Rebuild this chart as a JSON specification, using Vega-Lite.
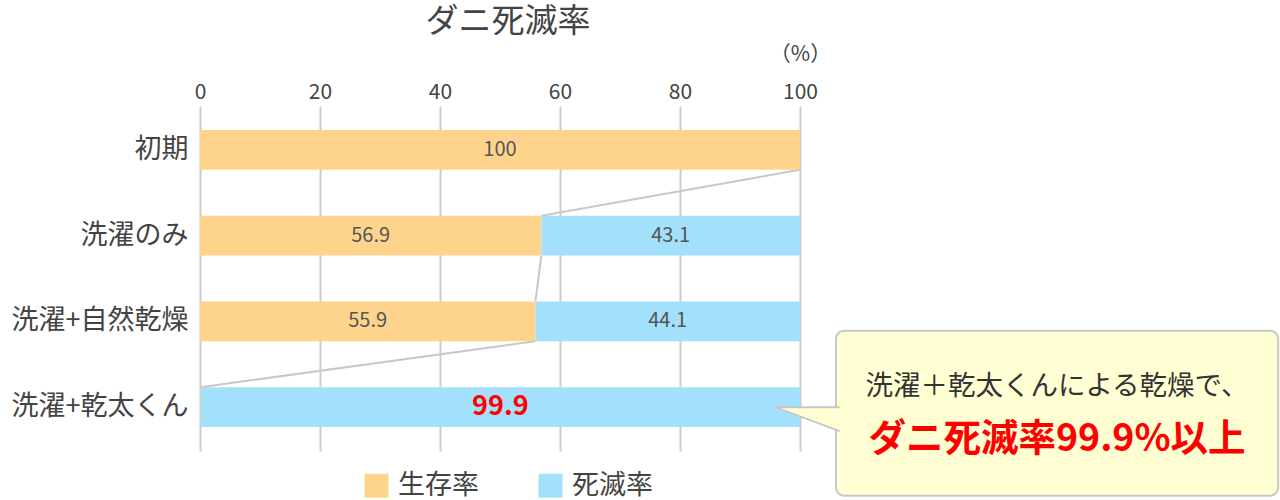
{
  "$schema": "https://vega.github.io/schema/vega-lite/v6.json",
  "width": 600,
  "height": 345,
  "autosize": {"type": "none"},
  "padding": {"left": 200, "top": 106, "right": 480, "bottom": 49},
  "background": "white",
  "config": {"font": "Noto Sans CJK JP", "view": {"stroke": null}},
  "title": {"text": "ダニ死滅率", "fontSize": 33, "fontWeight": "normal", "color": "#444", "anchor": "middle", "dx": 8, "offset": 4},
  "data": {"values": [
    {"label": "初期", "type": "生存率", "value": 100},
    {"label": "洗濯のみ", "type": "生存率", "value": 56.9},
    {"label": "洗濯のみ", "type": "死滅率", "value": 43.1},
    {"label": "洗濯+自然乾燥", "type": "生存率", "value": 55.9},
    {"label": "洗濯+自然乾燥", "type": "死滅率", "value": 44.1},
    {"label": "洗濯+乾太くん", "type": "生存率", "value": 0.1},
    {"label": "洗濯+乾太くん", "type": "死滅率", "value": 99.9}
  ]},
  "layer": [
    {
      "mark": {"type": "bar"},
      "encoding": {
        "x": {"field": "value", "type": "quantitative", "stack": "zero",
          "scale": {"domain": [0, 100], "nice": false},
          "axis": {"orient": "top", "values": [0, 20, 40, 60, 80, 100], "ticks": false, "domain": false,
            "grid": true, "gridColor": "#cccccc", "gridWidth": 2, "labelFontSize": 21, "labelColor": "#444",
            "labelPadding": 4, "labelFlush": false, "title": "（%）", "titleAngle": 0, "titleX": 600, "titleY": -52,
            "titleAlign": "center", "titleBaseline": "middle", "titleFontSize": 21, "titleFontWeight": "normal", "titleColor": "#444"}},
        "y": {"field": "label", "type": "nominal",
          "scale": {"domain": ["初期", "洗濯のみ", "洗濯+自然乾燥", "洗濯+乾太くん"], "paddingInner": 0.535, "paddingOuter": 0.279},
          "axis": {"title": null, "ticks": false, "domain": false, "labelFontSize": 27, "labelColor": "#444", "labelPadding": 12, "labelLimit": 300}},
        "color": {"field": "type", "type": "nominal",
          "scale": {"domain": ["生存率", "死滅率"], "range": ["#FED48D", "#A3E0FC"]},
          "legend": {"orient": "none", "legendX": 163, "legendY": 366, "direction": "horizontal", "title": null,
            "symbolType": "square", "symbolSize": 576, "symbolStrokeWidth": 0, "labelFontSize": 27, "labelColor": "#444",
            "columnPadding": 58, "labelOffset": 8}},
        "order": {"field": "type", "sort": "descending"}
      }
    },
    {
      "data": {"values": [
        {"r1": "初期", "r2": "洗濯のみ", "a": 100, "b": 56.9},
        {"r1": "洗濯のみ", "r2": "洗濯+自然乾燥", "a": 56.9, "b": 55.9},
        {"r1": "洗濯+自然乾燥", "r2": "洗濯+乾太くん", "a": 55.9, "b": 0.1}
      ]},
      "mark": {"type": "rule", "color": "#c8c8c8", "strokeWidth": 2},
      "encoding": {
        "x": {"field": "a", "type": "quantitative"},
        "x2": {"field": "b"},
        "y": {"field": "r1", "type": "nominal", "bandPosition": 1},
        "y2": {"field": "r2", "bandPosition": 0}
      }
    },
    {
      "transform": [
        {"stack": "value", "groupby": ["label"], "sort": [{"field": "type", "order": "descending"}], "as": ["v0", "v1"]},
        {"calculate": "(datum.v0 + datum.v1) / 2", "as": "mid"},
        {"filter": "datum.label != '洗濯+乾太くん'"}
      ],
      "mark": {"type": "text", "fontSize": 20, "color": "#555", "baseline": "middle"},
      "encoding": {
        "x": {"field": "mid", "type": "quantitative"},
        "y": {"field": "label", "type": "nominal"},
        "text": {"field": "value", "type": "quantitative", "format": "~g"}
      }
    },
    {
      "transform": [
        {"stack": "value", "groupby": ["label"], "sort": [{"field": "type", "order": "descending"}], "as": ["v0", "v1"]},
        {"calculate": "(datum.v0 + datum.v1) / 2", "as": "mid"},
        {"filter": "datum.label == '洗濯+乾太くん' && datum.type == '死滅率'"}
      ],
      "mark": {"type": "text", "fontSize": 27, "fontWeight": "bold", "color": "#FF0000", "baseline": "middle"},
      "encoding": {
        "x": {"field": "mid", "type": "quantitative"},
        "y": {"field": "label", "type": "nominal"},
        "text": {"field": "value", "type": "quantitative", "format": "~g"}
      }
    },
    {
      "data": {"values": [{}]},
      "mark": {"type": "bar", "fill": "#FFFFD3", "stroke": "#C8C8C8", "strokeWidth": 2, "cornerRadius": 8, "size": 165, "yOffset": 6},
      "encoding": {
        "x": {"datum": 106, "type": "quantitative"},
        "x2": {"datum": 179.7},
        "y": {"datum": "洗濯+乾太くん", "type": "nominal"}
      }
    },
    {
      "data": {"values": [{}]},
      "mark": {"type": "point", "shape": "M 0.06 0.393 L -1 0 L 0.06 0", "size": 14884, "filled": true, "fill": "#FFFFD3", "stroke": "#C8C8C8", "strokeWidth": 2, "opacity": 1},
      "encoding": {
        "x": {"datum": 106, "type": "quantitative"},
        "y": {"datum": "洗濯+乾太くん", "type": "nominal"}
      }
    },
    {
      "data": {"values": [{"t": "洗濯＋乾太くんによる乾燥で、"}]},
      "mark": {"type": "text", "fontSize": 27.5, "color": "#333", "baseline": "middle", "align": "center", "dy": -20.5},
      "encoding": {
        "x": {"datum": 142.83, "type": "quantitative"},
        "y": {"datum": "洗濯+乾太くん", "type": "nominal"},
        "text": {"field": "t"}
      }
    },
    {
      "data": {"values": [{"t": "ダニ死滅率99.9%以上"}]},
      "mark": {"type": "text", "fontSize": 37.5, "fontWeight": "bold", "color": "#FF0000", "baseline": "middle", "align": "center", "dy": 33},
      "encoding": {
        "x": {"datum": 142.83, "type": "quantitative"},
        "y": {"datum": "洗濯+乾太くん", "type": "nominal"},
        "text": {"field": "t"}
      }
    }
  ]
}
